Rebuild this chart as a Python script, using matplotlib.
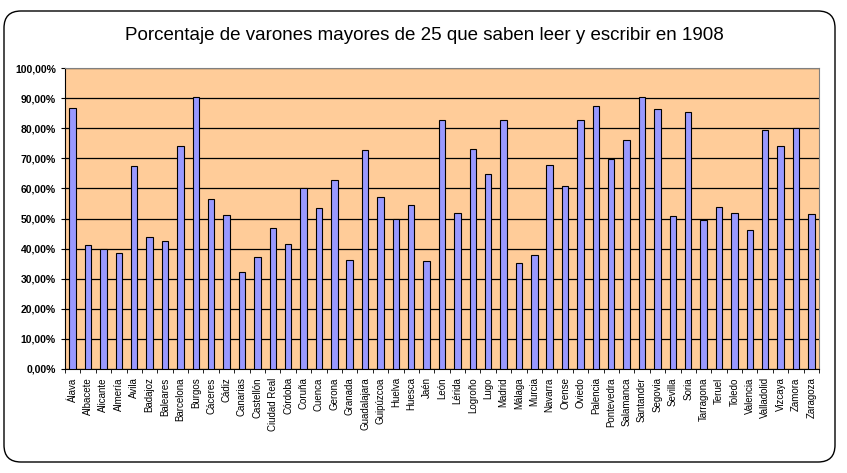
import matplotlib
matplotlib.use("Agg")
import matplotlib.pyplot as plt
from matplotlib.patches import FancyBboxPatch
from matplotlib.ticker import FuncFormatter, MultipleLocator
import numpy as np

plt.rcParams['font.family'] = ['Liberation Sans', 'DejaVu Sans']

provincias = ["Álava", "Albacete", "Alicante", "Almería", "Avila", "Badajoz", "Baleares",
              "Barcelona", "Burgos", "Cáceres", "Cádiz", "Canarias", "Castellón",
              "Ciudad Real", "Córdoba", "Coruña", "Cuenca", "Gerona", "Granada",
              "Guadalajara", "Guipúzcoa", "Huelva", "Huesca", "Jaén", "León", "Lérida",
              "Logroño", "Lugo", "Madrid", "Málaga", "Murcia", "Navarra", "Orense",
              "Oviedo", "Palencia", "Pontevedra", "Salamanca", "Santander", "Segovia",
              "Sevilla", "Soria", "Tarragona", "Teruel", "Toledo", "Valencia",
              "Valladolid", "Vizcaya", "Zamora", "Zaragoza"]
porcentajes = [86.7, 41.2, 40.0, 38.5, 67.4, 43.8, 42.5, 74.1, 90.4, 56.5, 51.2, 32.2, 37.2,
               46.8, 41.5, 60.1, 53.5, 62.8, 36.2, 72.8, 57.1, 49.7, 54.5, 35.9, 82.7, 51.8,
               73.1, 64.8, 82.7, 35.2, 37.9, 67.8, 60.8, 82.7, 87.4, 69.8, 76.1, 90.4, 86.4,
               50.8, 85.4, 49.5, 53.8, 51.8, 46.2, 79.4, 74.1, 80.1, 51.5]
titulo = "Porcentaje de varones mayores de 25 que saben leer y escribir en 1908"

W, H = 847, 473
fig = plt.figure(figsize=(W / 100, H / 100), dpi=100)

# outer rounded border
border = FancyBboxPatch((4 / W, 11 / H), (831 / W), (451 / H),
                        boxstyle="round,pad=0,rounding_size=0.02",
                        transform=fig.transFigure, fill=False, edgecolor="black",
                        linewidth=1.0, mutation_aspect=W / H)
fig.add_artist(border)

ax = fig.add_axes([65 / W, 1 - 369 / H, (819 - 65) / W, (369 - 68) / H])
ax.set_facecolor("#FFCC99")
x = np.arange(len(provincias))
ax.bar(x, porcentajes, width=0.42, color="#9999FF", edgecolor="black", linewidth=0.8, zorder=3)
ax.set_xlim(-0.5, len(provincias) - 0.5)
ax.set_ylim(0, 100)
ax.yaxis.set_major_locator(MultipleLocator(10))
ax.yaxis.set_major_formatter(FuncFormatter(lambda v, p: f"{v:.2f}%".replace(".", ",")))
ax.grid(axis="y", color="black", linewidth=0.9, zorder=1)
ax.set_axisbelow(True)

ax.set_xticks(x)
ax.set_xticklabels(provincias, rotation=90, fontsize=7)
ax.set_xticks(np.arange(-0.5, len(provincias)), minor=True)
ax.tick_params(axis="x", which="major", length=0, pad=6)
ax.tick_params(axis="x", which="minor", length=3, direction="out")
ax.tick_params(axis="y", length=3, direction="out", labelsize=7.5)
for lbl in ax.get_yticklabels():
    lbl.set_fontweight("bold")

for side in ["top", "right"]:
    ax.spines[side].set_color("#808080")
ax.spines["left"].set_color("black")
ax.spines["bottom"].set_color("black")

fig.text(424 / W, 1 - 35 / H, titulo, ha="center", va="center", fontsize=13.5)

fig.savefig("out.png", dpi=100)
